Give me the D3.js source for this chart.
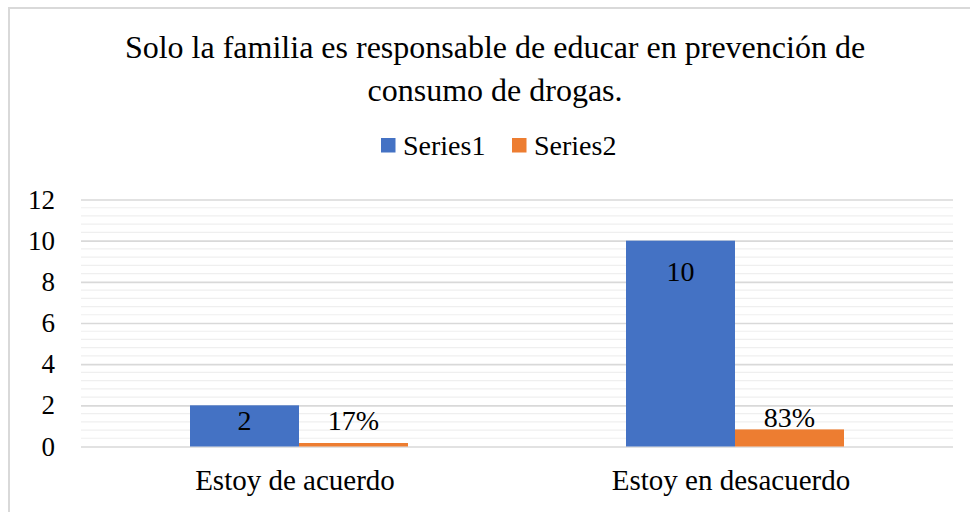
<!DOCTYPE html>
<html><head><meta charset="utf-8">
<script src="https://cdn.jsdelivr.net/npm/d3@7"></script>
</head><body style="margin:0;background:#fff"><svg id="c" width="970" height="512" style="display:block"></svg>
<script>
const titleLines = ["Solo la familia es responsable de educar en prevención de", "consumo de drogas."];
const categories = ["Estoy de acuerdo", "Estoy en desacuerdo"];
const seriesNames = ["Series1", "Series2"];
const series1 = [2, 10];
const series2 = [0.17, 0.83];
const series2Labels = ["17%", "83%"];
const yTicks = [0, 2, 4, 6, 8, 10, 12];
const colors = ["#4472C4", "#ED7D31"];

(function () {
const FONT = '"Liberation Serif"';
const svg = d3.select("#c");
svg.append("rect").attr("x", 9).attr("y", 8).attr("width", 1000).attr("height", 600)
  .attr("fill", "#fff").attr("stroke", "#d9d9d9").attr("stroke-width", 2);

const pL = 81, pR = 953, pT = 199.5, pB = 446.5;
const y = d3.scaleLinear().domain([0, 12]).range([pB, pT]);
const x0 = d3.scaleBand().domain(categories).range([pL, pR]).padding(0);
const x1 = d3.scaleBand().domain(seriesNames).range([x0.bandwidth() / 4, x0.bandwidth() * 3 / 4]).padding(0);

const minor = d3.range(0, 12.0001, 0.4).filter(v => Math.abs(v / 2 - Math.round(v / 2)) > 1e-6);
svg.append("g").selectAll("line").data(minor).join("line")
  .attr("x1", pL).attr("x2", pR).attr("y1", d => y(d)).attr("y2", d => y(d))
  .attr("stroke", "#efefef").attr("stroke-width", 1.2);
const yAxis = d3.axisLeft(y).tickValues(yTicks).tickSize(-(pR - pL)).tickPadding(26).tickFormat(d3.format("d"));
const ga = svg.append("g").attr("transform", `translate(${pL},0)`).call(yAxis);
ga.select(".domain").remove();
ga.selectAll(".tick line").attr("stroke", "#d9d9d9").attr("stroke-width", 1.6);
ga.selectAll(".tick text").attr("font-size", 27).style("font-family", FONT).attr("fill", "#000");

const data = categories.map((c, i) => ({ c, vals: [series1[i], series2[i]], lab: [String(series1[i]), series2Labels[i]] }));
const g = svg.append("g").selectAll("g").data(data).join("g")
  .attr("transform", d => `translate(${x0(d.c)},0)`);
g.selectAll("rect").data(d => d.vals.map((v, k) => ({ v, k }))).join("rect")
  .attr("x", d => x1(seriesNames[d.k])).attr("width", x1.bandwidth())
  .attr("y", d => y(d.v)).attr("height", d => y(0) - y(d.v))
  .attr("fill", d => colors[d.k]);
g.selectAll("text").data(d => d.vals.map((v, k) => ({ v, k, lab: d.lab[k] }))).join("text")
  .attr("x", d => x1(seriesNames[d.k]) + x1.bandwidth() / 2)
  .attr("y", d => d.k === 0 ? Math.min(y(d.v) + 40, y(0) - 17) : Math.min(y(d.v) - 2, y(0) - 17))
  .attr("text-anchor", "middle").attr("font-size", 28).style("font-family", FONT).text(d => d.lab);

svg.append("g").selectAll("text").data(categories).join("text")
  .attr("x", d => x0(d) + x0.bandwidth() / 2 - 4).attr("y", 490)
  .attr("text-anchor", "middle").attr("font-size", 29).style("font-family", FONT).text(d => d);

svg.append("g").selectAll("text").data(titleLines).join("text")
  .attr("x", 495).attr("y", (d, i) => 58 + i * 43)
  .attr("text-anchor", "middle").attr("font-size", 32).style("font-family", FONT).text(d => d);

const lg = svg.append("g").selectAll("g").data(seriesNames).join("g")
  .attr("transform", (d, i) => `translate(${381 + i * 131},0)`);
lg.append("rect").attr("x", 0).attr("y", 138).attr("width", 14.5).attr("height", 14.5).attr("fill", (d, i) => colors[i]);
lg.append("text").attr("x", 22).attr("y", 155).attr("font-size", 28).style("font-family", FONT).text(d => d);
})();
</script></body></html>
